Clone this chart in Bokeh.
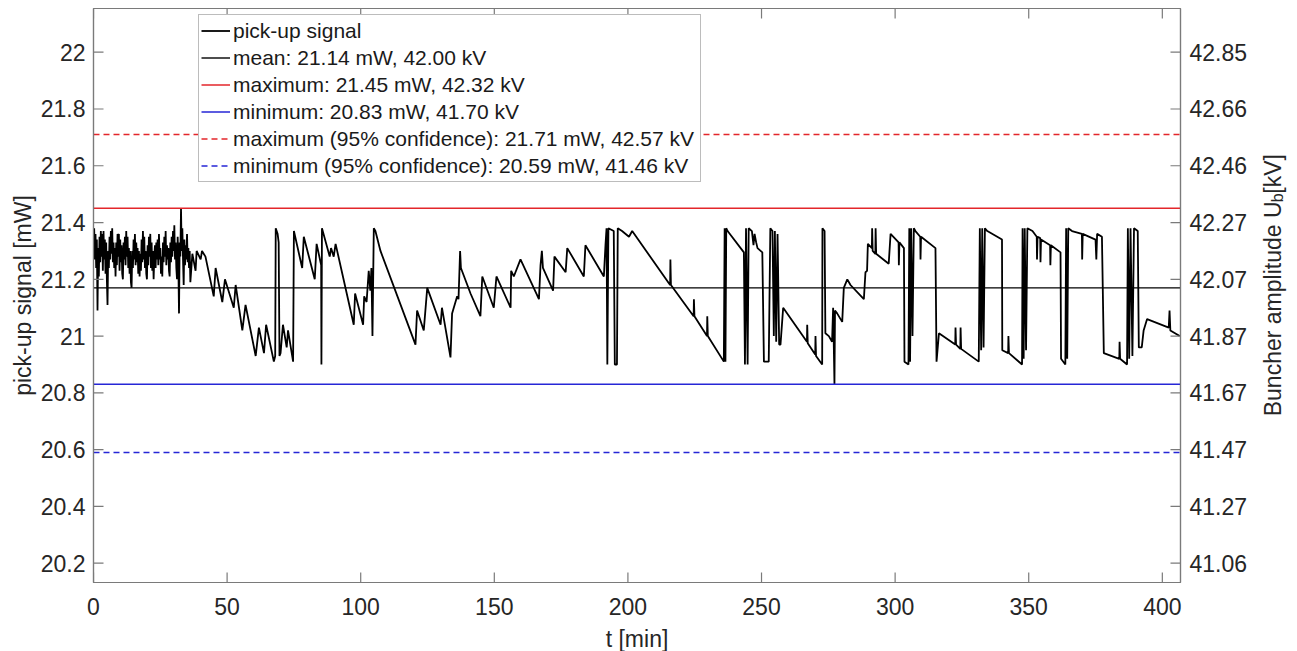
import math
from bokeh.plotting import figure
from bokeh.layouts import row
from bokeh.models import Range1d, FixedTicker, Legend, LegendItem, LinearAxis
from bokeh.core.properties import value
from bokeh.embed import file_html
from bokeh.resources import INLINE

# ---------------- data ----------------
t_min = [
    0.0, 0.25, 0.5, 0.75, 1.0, 1.25, 1.5, 1.75,
    2.0, 2.25, 2.5, 2.75, 3.0, 3.25, 3.5, 3.75,
    4.0, 4.25, 4.5, 4.75, 5.0, 5.25, 5.5, 5.75,
    6.0, 6.25, 6.5, 6.75, 7.0, 7.25, 7.5, 7.75,
    8.0, 8.25, 8.5, 8.75, 9.0, 9.25, 9.5, 9.75,
    10.0, 10.25, 10.5, 10.75, 11.0, 11.25, 11.5, 11.75,
    12.0, 12.25, 12.5, 12.75, 13.0, 13.25, 13.5, 13.75,
    14.0, 14.25, 14.5, 14.75, 15.0, 15.25, 15.5, 15.75,
    16.0, 16.25, 16.5, 16.75, 17.0, 17.25, 17.5, 17.75,
    18.0, 18.25, 18.5, 18.75, 19.0, 19.25, 19.5, 19.75,
    20.0, 20.25, 20.5, 20.75, 21.0, 21.25, 21.5, 21.75,
    22.0, 22.25, 22.5, 22.75, 23.0, 23.25, 23.5, 23.75,
    24.0, 24.25, 24.5, 24.75, 25.0, 25.25, 25.5, 25.75,
    26.0, 26.25, 26.5, 26.75, 27.0, 27.25, 27.5, 27.75,
    28.0, 28.25, 28.5, 28.75, 29.0, 29.25, 29.5, 29.75,
    30.0, 30.25, 30.5, 30.75, 31.0, 31.25, 31.5, 31.75,
    32.0, 32.25, 32.5, 32.75, 33.0, 33.25, 33.5, 33.75,
    34.0, 34.25, 34.5, 34.75, 35.0, 35.25, 35.5, 35.75,
    36.0, 36.25,
    37.0, 38.2, 38.6, 40.1, 40.6, 41.9, 45.0, 45.7, 48.2, 49.2, 52.5,
    53.2, 55.7, 56.9, 60.7, 61.9, 63.8, 64.6, 67.5, 68.0, 68.2, 68.9, 69.3, 69.6, 70.0, 70.9, 72.3, 72.8,
    74.7, 75.0, 78.1, 78.7, 82.8, 83.5, 85.2, 85.3, 85.5, 88.4, 88.9, 89.9, 90.6, 97.4, 97.9, 100.9, 101.3,
    102.2, 103.0, 103.6, 104.0, 104.4, 104.9, 105.5, 107.4, 120.5, 121.1, 123.6, 124.9, 129.9, 130.4,
    133.6, 134.2, 136.1, 136.6, 137.2, 137.5, 141.1, 144.8, 145.5, 149.8, 150.8, 156.1, 156.3, 157.3,
    159.8, 166.7, 167.3, 167.8, 168.2, 172.0, 172.5, 176.7, 177.3, 183.5, 184.1, 191.0, 191.6, 192.0,
    192.3, 192.7, 194.7, 195.1, 195.9, 196.2, 197.8, 200.4, 201.6, 215.8, 215.9, 216.1, 224.6, 224.7,
    224.9, 229.6, 229.7, 229.9, 235.9, 236.2, 236.5, 236.8, 237.3, 243.4, 243.8, 244.2, 244.8, 245.2,
    246.4, 247.0, 247.4, 248.0, 248.5, 250.3, 250.9, 252.7, 253.3, 254.1, 254.6, 255.0, 255.5, 256.0,
    256.6, 257.1, 258.1, 267.0, 267.1, 267.3, 270.1, 270.2, 270.4, 272.7, 272.8, 273.6, 273.9, 275.2,
    276.4, 276.8, 277.3, 277.5, 278.3, 280.2, 280.8, 282.1, 283.3, 288.3, 288.9, 289.5, 289.8, 291.3,
    291.4, 291.6, 292.6, 292.7, 292.9, 297.6, 298.3, 301.3, 301.4, 301.6, 303.3, 303.5, 305.0, 305.3,
    305.6, 306.0, 306.5, 307.0, 307.6, 309.4, 309.5, 309.7, 315.1, 315.5, 316.4, 322.5, 322.6, 322.8,
    324.4, 324.5, 324.7, 331.3, 331.7, 332.2, 332.6, 333.1, 333.6, 334.5, 340.0, 340.1, 342.3, 342.4,
    342.6, 347.5, 347.7, 348.1, 348.5, 349.0, 349.5, 351.4, 353.0, 353.1, 353.3, 354.3, 354.4, 354.6,
    358.0, 358.1, 358.3, 361.9, 362.1, 363.7, 364.0, 364.4, 364.8, 366.2, 369.9, 370.0, 370.2, 375.0,
    375.3, 375.6, 377.4, 378.1, 383.9, 384.0, 384.2, 386.8, 387.1, 387.6, 388.1, 388.8, 389.4, 390.8,
    391.2, 392.3, 393.0, 394.3, 402.4, 402.7, 403.0, 406.5,
]
pickup_mw = [
    21.30, 21.38, 21.27, 21.36, 21.24, 21.34, 21.09, 21.31,
    21.21, 21.35, 21.26, 21.37, 21.28, 21.36, 21.23, 21.37,
    21.27, 21.34, 21.22, 21.33, 21.20, 21.11, 21.30, 21.24,
    21.35, 21.27, 21.37, 21.29, 21.38, 21.26, 21.33, 21.24,
    21.31, 21.21, 21.33, 21.25, 21.36, 21.28, 21.36, 21.23,
    21.34, 21.26, 21.32, 21.22, 21.20, 21.33, 21.27, 21.35,
    21.25, 21.37, 21.28, 21.35, 21.24, 21.31, 21.22, 21.30,
    21.19, 21.17, 21.30, 21.24, 21.34, 21.27, 21.36, 21.25,
    21.33, 21.26, 21.31, 21.22, 21.30, 21.21, 21.29, 21.23,
    21.34, 21.26, 21.37, 21.27, 21.35, 21.24, 21.30, 21.22,
    21.20, 21.32, 21.25, 21.35, 21.28, 21.36, 21.24, 21.33,
    21.23, 21.30, 21.20, 21.28, 21.32, 21.24, 21.33, 21.27,
    21.34, 21.25, 21.36, 21.27, 21.31, 21.22, 21.28, 21.21,
    21.33, 21.26, 21.35, 21.28, 21.37, 21.25, 21.32, 21.27,
    21.31, 21.23, 21.21, 21.33, 21.26, 21.35, 21.28, 21.37,
    21.30, 21.39, 21.27, 21.33, 21.24, 21.20, 21.35, 21.26,
    21.08, 21.33, 21.28, 21.45, 21.30, 21.38, 21.27, 21.18,
    21.34, 21.25, 21.32, 21.27, 21.36, 21.26, 21.31, 21.24,
    21.30, 21.19,
    21.29, 21.23, 21.30, 21.27, 21.30, 21.28, 21.14, 21.24, 21.12, 21.20, 21.10,
    21.18, 21.02, 21.11, 20.93, 21.03, 20.94, 21.04, 20.91, 20.93, 21.38, 21.36, 21.33, 20.93, 20.94, 21.04,
    20.96, 21.02, 20.91, 21.37, 21.24, 21.35, 21.20, 21.325, 21.25, 20.90, 21.38, 21.28, 21.31, 21.28,
    21.325, 21.04, 21.15, 21.04, 21.14, 21.12, 21.23, 21.16, 21.24, 21.00, 21.38, 21.37, 21.30, 20.97,
    21.09, 21.02, 21.17, 21.04, 21.10, 20.925, 21.08, 21.14, 21.13, 21.30, 21.24, 21.15, 21.07, 21.21,
    21.10, 21.21, 21.10, 21.23, 21.21, 21.27, 21.13, 21.25, 21.30, 21.24, 21.16, 21.28, 21.225, 21.31,
    21.21, 21.32, 21.21, 21.32, 21.38, 20.90, 21.38, 21.37, 20.90, 20.90, 21.38, 21.37, 21.35, 21.37,
    21.18, 21.27, 21.18, 21.07, 21.13, 21.07, 21.00, 21.07, 21.00, 20.91, 21.38, 20.91, 21.38, 21.37,
    21.295, 20.90, 21.38, 20.90, 21.38, 21.37, 21.32, 21.36, 21.33, 21.31, 21.295, 20.91, 20.91, 21.38,
    21.37, 21.00, 21.37, 20.98, 21.36, 20.97, 20.97, 21.10, 20.98, 21.04, 20.975, 20.935, 21.00, 20.93,
    20.90, 21.38, 21.37, 21.01, 21.00, 20.98, 21.10, 20.83, 21.09, 21.08, 21.05, 21.17, 21.20, 21.18,
    21.13, 21.225, 21.23, 21.325, 21.31, 21.38, 21.30, 21.29, 21.38, 21.29, 21.255, 21.36, 21.33, 21.25,
    21.33, 21.31, 20.91, 20.90, 21.38, 20.91, 21.38, 21.00, 21.38, 21.37, 21.35, 21.27, 21.35, 21.31,
    20.91, 21.01, 20.97, 21.03, 20.97, 20.955, 21.03, 20.955, 20.91, 21.38, 20.95, 21.38, 20.96, 21.38,
    21.37, 21.34, 20.95, 20.94, 21.00, 20.94, 20.90, 21.38, 20.92, 21.38, 20.95, 21.38, 21.37, 21.35,
    21.27, 21.35, 21.345, 21.26, 21.34, 21.32, 21.25, 21.32, 21.295, 20.92, 20.90, 21.38, 20.92, 21.38,
    21.37, 21.36, 21.27, 21.36, 21.34, 21.27, 21.36, 21.35, 20.94, 20.92, 20.98, 20.92, 20.90, 21.38,
    20.92, 21.38, 20.93, 21.38, 21.37, 20.96, 20.96, 21.02, 21.06, 21.03, 21.09, 21.02, 21.00,
]

mean_level = 21.17
max_level = 21.45
min_level = 20.83
max95_level = 21.71
min95_level = 20.59

legend_labels = [
    "pick-up signal",
    "mean: 21.14 mW, 42.00 kV",
    "maximum: 21.45 mW, 42.32 kV",
    "minimum: 20.83 mW, 41.70 kV",
    "maximum (95% confidence): 21.71 mW, 42.57 kV",
    "minimum (95% confidence): 20.59 mW, 41.46 kV",
]

x_ticks = [0, 50, 100, 150, 200, 250, 300, 350, 400]
y_ticks = [20.2, 20.4, 20.6, 20.8, 21.0, 21.2, 21.4, 21.6, 21.8, 22.0]
left_tick_labels = ["20.2", "20.4", "20.6", "20.8", "21", "21.2", "21.4", "21.6", "21.8", "22"]
right_tick_labels = ["41.06", "41.27", "41.47", "41.67", "41.87", "42.07", "42.27", "42.46", "42.66", "42.85"]
right_title_parts = ["Buncher amplitude U", "b", "[kV]"]

x_start, x_end = 0.0, 406.8
y_start, y_end = 20.132, 22.154

# ---------------- styles ----------------
FONT = "Liberation Sans"
AXIS_COL = "#7a7a7a"
TXT_COL = "#262626"
RED = "#e3262b"
BLUE = "#2626d6"

p = figure(
    frame_width=1087, frame_height=574,
    x_range=Range1d(x_start, x_end), y_range=Range1d(y_start, y_end),
    output_backend="svg", toolbar_location=None,
    min_border_left=93, min_border_right=68, min_border_top=8, min_border_bottom=69,
)
p.grid.visible = False
p.outline_line_color = AXIS_COL
p.outline_line_width = 1.2
p.background_fill_color = "white"
p.border_fill_color = "white"

hx = [x_start, x_end]
r_sig = p.line(t_min, pickup_mw, line_color="black", line_width=1.8)
r_mean = p.line(hx, [mean_level, mean_level], line_color="black", line_width=1.4)
r_max = p.line(hx, [max_level, max_level], line_color=RED, line_width=1.5)
r_min = p.line(hx, [min_level, min_level], line_color=BLUE, line_width=1.5)
r_max95 = p.line(hx, [max95_level, max95_level], line_color=RED, line_width=1.5, line_dash="6 4")
r_min95 = p.line(hx, [min95_level, min95_level], line_color=BLUE, line_width=1.5, line_dash="6 4")

# inward tick marks on all four sides, 10 px long
tick_kw = dict(length=10, length_units="screen", line_color=AXIS_COL, line_width=1.2)
p.ray(x_ticks, [y_start] * len(x_ticks), angle=math.pi / 2, **tick_kw)
p.ray(x_ticks, [y_end] * len(x_ticks), angle=-math.pi / 2, **tick_kw)
p.ray([x_start] * len(y_ticks), y_ticks, angle=0.0, **tick_kw)
p.ray([x_end] * len(y_ticks), y_ticks, angle=math.pi, **tick_kw)

def style_axis(ax):
    ax.axis_line_color = AXIS_COL
    ax.axis_line_width = 1.2
    ax.major_tick_line_color = None
    ax.major_tick_in = 0
    ax.major_tick_out = 0
    ax.minor_tick_line_color = None
    ax.major_label_text_font = FONT
    ax.major_label_text_font_size = "23px"
    ax.major_label_text_color = TXT_COL
    ax.axis_label_text_font = FONT
    ax.axis_label_text_font_size = "23px"
    ax.axis_label_text_font_style = "normal"
    ax.axis_label_text_color = TXT_COL

xa = p.xaxis[0]
style_axis(xa)
xa.ticker = FixedTicker(ticks=x_ticks)
xa.axis_label = "t [min]"
xa.major_label_standoff = 15
xa.axis_label_standoff = 8

ya = p.yaxis[0]
style_axis(ya)
ya.ticker = FixedTicker(ticks=y_ticks)
ya.major_label_overrides = {v: s for v, s in zip(y_ticks, left_tick_labels)}
ya.axis_label = "pick-up signal [mW]"
ya.major_label_standoff = 8
ya.axis_label_standoff = 2

right = LinearAxis(ticker=FixedTicker(ticks=y_ticks))
style_axis(right)
right.major_label_overrides = {v: s for v, s in zip(y_ticks, right_tick_labels)}
right.major_label_standoff = 9
p.add_layout(right, "right")

items = [LegendItem(label=l, renderers=[r]) for l, r in
         zip(legend_labels, [r_sig, r_mean, r_max, r_min, r_max95, r_min95])]
legend = Legend(items=items, location=(105, 400))
legend.label_text_font = FONT
legend.label_text_font_size = "21px"
legend.label_text_color = "#1a1a1a"
legend.glyph_width = 29
legend.glyph_height = 27
legend.label_height = 27
legend.label_width = 465
legend.label_standoff = 3
legend.padding = 2
legend.margin = 0
legend.spacing = 0
legend.border_line_color = AXIS_COL
legend.border_line_width = 1
legend.background_fill_alpha = 1
p.add_layout(legend, "center")

# ---- narrow companion panel holding the right-hand axis title (with subscript) ----
p2 = figure(width=49, height=651, x_range=Range1d(0, 49), y_range=Range1d(0, 651),
            x_axis_type=None, y_axis_type=None, output_backend="svg", toolbar_location=None,
            min_border=0)
p2.grid.visible = False
p2.outline_line_color = None
p2.border_fill_color = "white"
rot = math.pi / 2
main_fs, sub_fs = 23, 16
txt_kw = dict(angle=rot, text_font=value(FONT), text_color=TXT_COL,
              text_align="right", text_baseline="middle")
y_top = 485                      # end of "[kV]" (text reads bottom-to-top)
y_sub_end = y_top - 1.723 * main_fs - 5
y_main_end = y_sub_end - 0.556 * sub_fs - 0.5
p2.text(x=[22], y=[y_top], text=[right_title_parts[2]], text_font_size=f"{main_fs}px", **txt_kw)
p2.text(x=[27], y=[y_sub_end], text=[right_title_parts[1]], text_font_size=f"{sub_fs}px", **txt_kw)
p2.text(x=[22], y=[y_main_end], text=[right_title_parts[0]], text_font_size=f"{main_fs}px", **txt_kw)

layout = row(p, p2, spacing=0)
open("out.html", "w").write(file_html(layout, INLINE))
